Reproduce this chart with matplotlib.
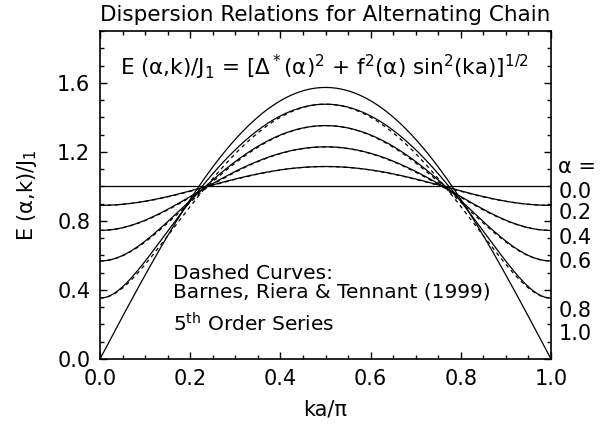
import matplotlib
matplotlib.use("Agg")
import matplotlib.pyplot as plt
import numpy as np

plt.rcParams['font.family'] = ['DejaVu Sans']
plt.rcParams['mathtext.fontset'] = 'dejavusans'
plt.rcParams['mathtext.default'] = 'regular'

# values
alpha = [0.0, 0.2, 0.4, 0.6, 0.8, 1.0]
gap = [1.0, 0.89, 0.745, 0.568, 0.353, 0.0]       # E at ka = 0
top = [1.0, 1.115, 1.229, 1.352, 1.476, 1.573]    # E at ka = pi/2
# small offsets of the series curves (Barnes, Riera & Tennant)
dash_alpha = [0.2, 0.4, 0.6, 0.8]
dash_corr = [-0.005, -0.01, -0.02, -0.06]
alpha_labels = ["0.0", "0.2", "0.4", "0.6", "0.8", "1.0"]
label_y = [0.965, 0.845, 0.70, 0.559, 0.279, 0.145]

x = np.linspace(0, 1, 400)
s = np.sin(np.pi * x)

fig = plt.figure(figsize=(6.13, 4.24), dpi=100)
ax = fig.add_axes([100/613, 1-359/424, 451/613, 328/424])

for a, d, p in zip(alpha, gap, top):
    f2 = p**2 - d**2
    ax.plot(x, np.sqrt(d**2 + f2 * s**2), color='black', lw=0.9)

for a, g in zip(dash_alpha, dash_corr):
    i = alpha.index(a)
    d, p = gap[i], top[i]
    f2 = p**2 - d**2
    e2 = d**2 + f2 * s**2 + g * np.sin(2*np.pi*x)**2
    ax.plot(x, np.sqrt(e2), color='black', lw=0.9, ls=(0, (3, 3)))

ax.set_xlim(0, 1)
ax.set_ylim(0, 1.9)
ax.set_xticks(np.arange(0, 1.01, 0.2))
ax.set_xticks(np.arange(0, 1.01, 0.05), minor=True)
ax.set_yticks(np.arange(0, 1.61, 0.4))
ax.set_yticks(np.arange(0, 1.91, 0.1), minor=True)
ax.tick_params(which='both', direction='in', top=True, right=True, labelsize=15, width=1)
ax.tick_params(which='major', length=5)
ax.tick_params(which='minor', length=3)
ax.tick_params(axis='x', pad=7)
ax.tick_params(axis='y', pad=7)
for sp in ax.spines.values():
    sp.set_linewidth(1.2)

ax.set_xlabel('ka/π', fontsize=15, labelpad=8)
ax.set_ylabel('E (α,k)/J$_1$', fontsize=15, labelpad=13)
ax.set_title('Dispersion Relations for Alternating Chain', fontsize=15.5, pad=7)

ax.text(0.044, 0.89, 'E (α,k)/J$_1$ = [Δ$^*$(α)$^2$ + f$^2$(α) sin$^2$(ka)]$^{1/2}$',
        transform=ax.transAxes, fontsize=15.5, va='center')

ax.text(0.162, 0.262, 'Dashed Curves:', transform=ax.transAxes, fontsize=14.5, va='center')
ax.text(0.162, 0.204, 'Barnes, Riera & Tennant (1999)', transform=ax.transAxes, fontsize=14.5, va='center')
ax.text(0.162, 0.107, '5$^{th}$ Order Series', transform=ax.transAxes, fontsize=14.5, va='center')

tr = ax.get_yaxis_transform()
ax.text(1.016, 1.11, 'α =', transform=tr, fontsize=15, va='center', clip_on=False)
for lab, yy in zip(alpha_labels, label_y):
    ax.text(1.016, yy, lab, transform=tr, fontsize=15, va='center', clip_on=False)

fig.savefig('out.png', dpi=100)
